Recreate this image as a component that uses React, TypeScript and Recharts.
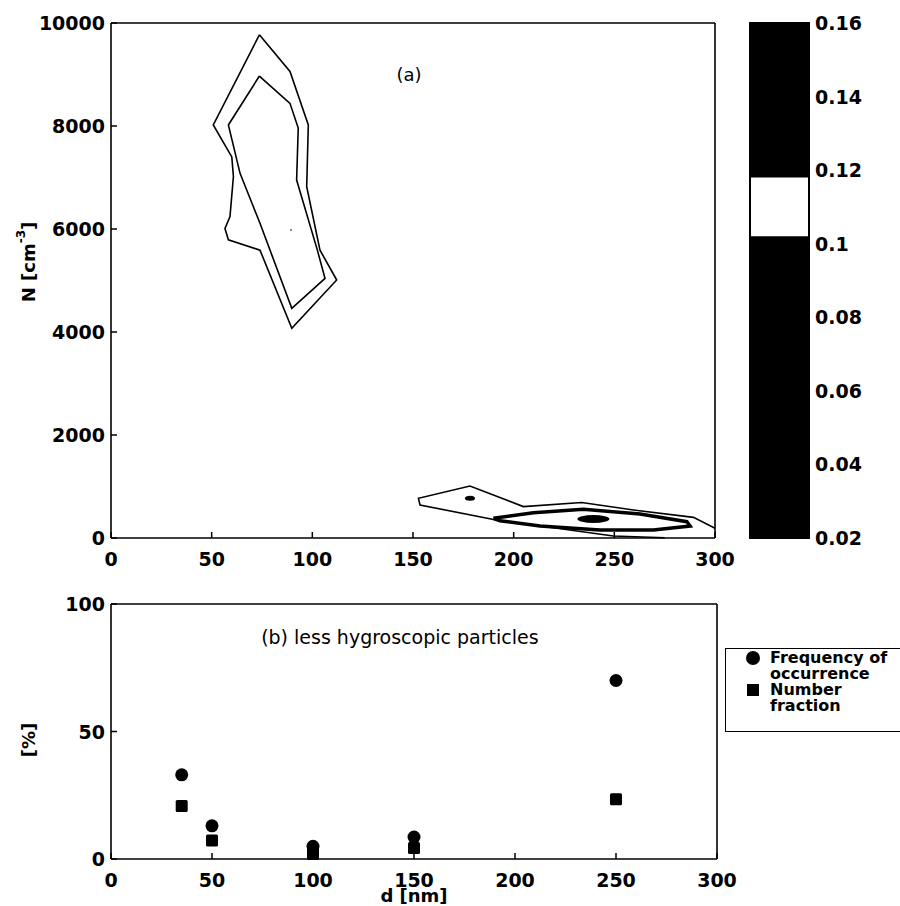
import { ComposedChart, Scatter, XAxis, YAxis, ReferenceArea, ReferenceDot, Legend } from 'recharts';

const dTicks = [0, 50, 100, 150, 200, 250, 300];
const nTicks = [0, 2000, 4000, 6000, 8000, 10000];
const pctTicks = [0, 50, 100];
const cbTicks = [0.02, 0.04, 0.06, 0.08, 0.1, 0.12, 0.14, 0.16];

// (a) contour lines, d [nm] vs N [cm-3]
const upperOuter = [
    { d: 73.7, n: 9770 }, { d: 88.9, n: 9060 }, { d: 98.0, n: 8020 }, { d: 97.2, n: 6820 },
    { d: 103.8, n: 5590 }, { d: 112.1, n: 5010 }, { d: 89.8, n: 4070 }, { d: 74.0, n: 5590 },
    { d: 58.3, n: 5790 }, { d: 56.6, n: 6010 }, { d: 59.1, n: 6240 }, { d: 60.8, n: 7020 },
    { d: 60.0, n: 7400 }, { d: 50.8, n: 8020 }, { d: 73.7, n: 9770 },
];
const upperInner = [
    { d: 73.7, n: 8970 }, { d: 88.9, n: 8440 }, { d: 93.0, n: 7960 }, { d: 92.2, n: 6950 },
    { d: 102.5, n: 5590 }, { d: 106.3, n: 5040 }, { d: 89.8, n: 4460 }, { d: 74.0, n: 6110 },
    { d: 64.1, n: 7080 }, { d: 58.3, n: 8020 }, { d: 73.7, n: 8970 },
];
const lowerOuter = [
    { d: 275, n: 5 }, { d: 249.5, n: 40 }, { d: 190, n: 360 }, { d: 153.5, n: 640 },
    { d: 152.7, n: 770 }, { d: 178.3, n: 1010 }, { d: 204.8, n: 610 }, { d: 233.8, n: 690 },
    { d: 259.5, n: 545 }, { d: 289.3, n: 400 }, { d: 300, n: 190 },
];
const lowerBand = [
    { d: 189.9, n: 383 }, { d: 209.8, n: 492 }, { d: 234.6, n: 557 }, { d: 262.8, n: 466 },
    { d: 286, n: 317 }, { d: 287.6, n: 233 }, { d: 269.4, n: 155 }, { d: 242.9, n: 155 },
    { d: 213.1, n: 233 }, { d: 193.2, n: 336 }, { d: 189.9, n: 383 },
];
const blobs = [{ d: 239.6, n: 369 }];
const spots = [{ d: 178.3, n: 771 }];
const specks = [{ d: 89.4, n: 5980 }];

// colorbar: black except the 0.102-0.118 band
const cbBlack = [{ lo: 0.02, hi: 0.102 }, { lo: 0.118, hi: 0.16 }];

// (b) less hygroscopic particles
const diameters = [35, 50, 100, 150, 250];
const freqOccurrence = [33, 13, 5, 8.6, 70];
const numberFraction = [20.8, 7.3, 2, 4.3, 23.4];

const freqData = diameters.map((d, i) => ({ d, p: freqOccurrence[i] }));
const numData = diameters.map((d, i) => ({ d, p: numberFraction[i] }));
const cbData = cbTicks.map((v) => ({ c: 0.5, v }));

const FONT = '"DejaVu Sans", "Liberation Sans", Arial, sans-serif';
const tickFont = { fontFamily: FONT, fontWeight: 700, fontSize: 19, fill: '#000' };
const labelFont = { fontFamily: FONT, fontWeight: 700, fontSize: 18, fill: '#000' };
const axisStroke = { stroke: '#000', strokeWidth: 1.6 };
const thin = { stroke: '#000', strokeWidth: 1.6 };
const thick = { stroke: '#000', strokeWidth: 3.5 };

const BottomTick = (p: any) => (
    <g>
        <line x1={p.x} x2={p.x} y1={p.y} y2={p.y - 6} stroke="#000" strokeWidth={1.5} />
        <text x={p.x} y={p.y + 21} textAnchor="middle" dominantBaseline="central" {...tickFont}>{p.payload.value}</text>
    </g>
);
const TopTick = (p: any) => <line x1={p.x} x2={p.x} y1={p.y} y2={p.y + 6} stroke="#000" strokeWidth={1.5} />;
const LeftTick = (p: any) => (
    <g>
        <line x1={p.x} x2={p.x + 6} y1={p.y} y2={p.y} stroke="#000" strokeWidth={1.5} />
        <text x={p.x - 6} y={p.y} textAnchor="end" dominantBaseline="central" {...tickFont}>{p.payload.value}</text>
    </g>
);
const RightTick = (p: any) => <line x1={p.x} x2={p.x - 6} y1={p.y} y2={p.y} stroke="#000" strokeWidth={1.5} />;
const CbTick = (p: any) => (
    <text x={p.x + 6} y={p.y} textAnchor="start" dominantBaseline="central" {...tickFont}>{p.payload.value}</text>
);

const noDot = () => <g />;
const blobShape = (p: any) => <ellipse cx={p.cx} cy={p.cy} rx={16} ry={4} fill="#000" />;
const spotShape = (p: any) => <ellipse cx={p.cx} cy={p.cy} rx={5} ry={2.5} fill="#000" />;
const speckShape = (p: any) => <circle cx={p.cx} cy={p.cy} r={1} fill="#666" />;
const circleShape = (p: any) => <circle cx={p.cx} cy={p.cy} r={6.5} fill="#000" />;
const squareShape = (p: any) => <rect x={p.cx - 6} y={p.cy - 6} width={12} height={12} rx={1.5} fill="#000" />;

const nLabel = () => (
    <text x={28} y={262} transform="rotate(-90 28 262)" textAnchor="middle" dominantBaseline="central" {...labelFont}>
        N [cm<tspan dy={-7} fontSize={12}>-3</tspan><tspan dy={7}>]</tspan>
    </text>
);
const pctLabel = () => (
    <text x={28} y={160} transform="rotate(-90 28 160)" textAnchor="middle" dominantBaseline="central" {...labelFont}>[%]</text>
);
const dLabel = () => (
    <text x={414} y={315} textAnchor="middle" dominantBaseline="central" {...labelFont}>d [nm]</text>
);

const renderLegend = (props: any) => {
    const items = props.payload || [];
    return (
        <div style={{ boxSizing: 'border-box', width: 185, height: 84, border: '1.5px solid #000', paddingTop: 1, background: '#fff' }}>
            {items.map((e: any, i: number) => (
                <div key={i} style={{ position: 'relative', height: 32 }}>
                    <svg width={16} height={16} style={{ position: 'absolute', left: 19, top: 0 }}>
                        {i === 0 ? <circle cx={8} cy={8} r={7} fill="#000" /> : <rect x={2} y={2} width={12} height={12} fill="#000" />}
                    </svg>
                    <div style={{ paddingLeft: 44, fontFamily: FONT, fontWeight: 700, fontSize: 16, lineHeight: '16px', whiteSpace: 'pre-line', color: '#000' }}>
                        {e.value}
                    </div>
                </div>
            ))}
        </div>
    );
};

export default function App() {
    return (
        <div style={{ position: 'absolute', left: 0, top: 0, width: 900, height: 906, overflow: 'hidden', background: '#fff' }}>
            <div style={{ position: 'absolute', left: 0, top: 0 }}>
                <ComposedChart width={760} height={570} margin={{ top: 22, right: 44, bottom: 0, left: 0 }}>
                    <XAxis xAxisId="b" type="number" dataKey="d" domain={[0, 300]} ticks={dTicks} interval={0} tickSize={0} tickMargin={0} tickLine={false} tick={BottomTick} height={32} axisLine={axisStroke} />
                    <XAxis xAxisId="t" orientation="top" type="number" dataKey="d" domain={[0, 300]} ticks={dTicks} interval={0} tickSize={0} tickMargin={0} tickLine={false} tick={TopTick} height={1} axisLine={axisStroke} />
                    <YAxis yAxisId="l" type="number" dataKey="n" domain={[0, 10000]} ticks={nTicks} interval={0} tickSize={0} tickMargin={0} tickLine={false} tick={LeftTick} width={111} axisLine={axisStroke} label={{ content: nLabel }} />
                    <YAxis yAxisId="r" orientation="right" type="number" dataKey="n" domain={[0, 10000]} ticks={nTicks} interval={0} tickSize={0} tickMargin={0} tickLine={false} tick={RightTick} width={1} axisLine={axisStroke} />
                    <Scatter xAxisId="b" yAxisId="l" data={upperOuter} line={thin} lineType="joint" shape={noDot} isAnimationActive={false} />
                    <Scatter xAxisId="b" yAxisId="l" data={upperInner} line={thin} lineType="joint" shape={noDot} isAnimationActive={false} />
                    <Scatter xAxisId="b" yAxisId="l" data={lowerOuter} line={thin} lineType="joint" shape={noDot} isAnimationActive={false} />
                    <Scatter xAxisId="b" yAxisId="l" data={lowerBand} line={thick} lineType="joint" shape={noDot} isAnimationActive={false} />
                    <Scatter xAxisId="b" yAxisId="l" data={blobs} shape={blobShape} isAnimationActive={false} />
                    <Scatter xAxisId="b" yAxisId="l" data={spots} shape={spotShape} isAnimationActive={false} />
                    <Scatter xAxisId="b" yAxisId="l" data={specks} shape={speckShape} isAnimationActive={false} />
                    <ReferenceDot xAxisId="b" yAxisId="l" x={148} y={8990} r={0} label={{ value: '(a)', position: 'center', fill: '#000', fontSize: 18, fontFamily: FONT }} />
                </ComposedChart>
            </div>
            <div style={{ position: 'absolute', left: 740, top: 0 }}>
                <ComposedChart width={160} height={570} data={cbData} margin={{ top: 23, right: 0, bottom: 32, left: 10 }}>
                    <XAxis type="number" dataKey="c" domain={[0, 1]} hide />
                    <YAxis orientation="right" type="number" dataKey="v" domain={[0.02, 0.16]} ticks={cbTicks} interval={0} tickSize={0} tickMargin={0} tickLine={false} axisLine={false} tick={CbTick} width={91} />
                    {cbBlack.map((b, i) => (
                        <ReferenceArea key={i} y1={b.lo} y2={b.hi} fill="#000" fillOpacity={1} stroke="none" />
                    ))}
                    <ReferenceArea y1={0.02} y2={0.16} fill="none" stroke="#000" strokeWidth={2} />
                </ComposedChart>
            </div>
            <div style={{ position: 'absolute', left: 0, top: 580 }}>
                <ComposedChart width={900} height={326} margin={{ top: 23, right: 182, bottom: 0, left: 0 }}>
                    <XAxis xAxisId="b" type="number" dataKey="d" domain={[0, 300]} ticks={dTicks} interval={0} tickSize={0} tickMargin={0} tickLine={false} tick={BottomTick} height={47} axisLine={axisStroke} label={{ content: dLabel }} />
                    <XAxis xAxisId="t" orientation="top" type="number" dataKey="d" domain={[0, 300]} ticks={dTicks} interval={0} tickSize={0} tickMargin={0} tickLine={false} tick={TopTick} height={1} axisLine={axisStroke} />
                    <YAxis yAxisId="l" type="number" dataKey="p" domain={[0, 100]} ticks={pctTicks} interval={0} tickSize={0} tickMargin={0} tickLine={false} tick={LeftTick} width={111} axisLine={axisStroke} label={{ content: pctLabel }} />
                    <YAxis yAxisId="r" orientation="right" type="number" dataKey="p" domain={[0, 100]} ticks={pctTicks} interval={0} tickSize={0} tickMargin={0} tickLine={false} tick={RightTick} width={1} axisLine={axisStroke} />
                    <Scatter xAxisId="b" yAxisId="l" name={'Frequency of\noccurrence'} data={freqData} shape={circleShape} fill="#000" isAnimationActive={false} />
                    <Scatter xAxisId="b" yAxisId="l" name={'Number\nfraction'} data={numData} shape={squareShape} fill="#000" isAnimationActive={false} />
                    <ReferenceDot xAxisId="b" yAxisId="l" x={143} y={87} r={0} label={{ value: '(b) less hygroscopic particles', position: 'center', fill: '#000', fontSize: 19, fontFamily: FONT }} />
                    <Legend layout="vertical" align="center" verticalAlign="middle" content={renderLegend} wrapperStyle={{ left: 725, top: 68, width: 185, height: 84 }} />
                </ComposedChart>
            </div>
        </div>
    );
}
